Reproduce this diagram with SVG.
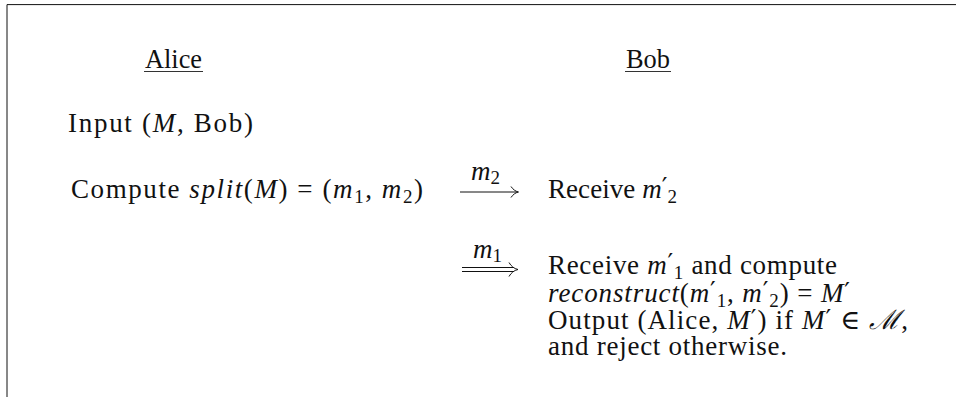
<svg xmlns="http://www.w3.org/2000/svg" width="956" height="397" viewBox="0 0 956 397">
<style>
text{font-family:"Liberation Serif","DejaVu Serif",serif;font-size:27px;fill:#111}
.i{font-style:italic}
.s{font-size:19px;font-style:normal}
.p{font-family:"DejaVu Sans",sans-serif;font-size:25px;font-style:normal}
.ln{stroke:#111;stroke-width:1;fill:none}
.ul{stroke:#333;stroke-width:1;fill:none}
</style>
<rect width="956" height="397" fill="#fff"/>
<g id="frame"><path class="ln" d="M7,397 V4.6 H956" stroke-width="1.4"/></g>
<g id="alice">
<text x="145" y="68" textLength="57" lengthAdjust="spacingAndGlyphs">Alice</text>
<line class="ul" x1="144" y1="71.5" x2="203" y2="71.5"/>
</g>
<g id="bob">
<text x="626" y="68" textLength="44" lengthAdjust="spacingAndGlyphs">Bob</text>
<line class="ul" x1="625" y1="71.5" x2="671" y2="71.5"/>
</g>
<g id="alice-input">
<text x="68" y="131.5" textLength="185" lengthAdjust="spacing">Input (<tspan class="i">M</tspan>, Bob)</text>
</g>
<g id="alice-split">
<text x="71" y="198" textLength="352" lengthAdjust="spacing">Compute <tspan class="i">split</tspan>(<tspan class="i">M</tspan>) = (<tspan class="i">m</tspan><tspan class="s" dy="5">1</tspan><tspan dy="-5">, </tspan><tspan class="i">m</tspan><tspan class="s" dy="5">2</tspan><tspan dy="-5">)</tspan></text>
</g>
<g id="bob-receive2">
<text x="548" y="198" textLength="129" lengthAdjust="spacing">Receive <tspan class="i">m</tspan><tspan class="p" dy="-3">′</tspan><tspan class="s" dy="8">2</tspan></text>
</g>
<g id="bob-reconstruct">
<text x="548" y="274" textLength="289" lengthAdjust="spacing">Receive <tspan class="i">m</tspan><tspan class="p" dy="-3">′</tspan><tspan class="s" dy="8">1</tspan><tspan dy="-5"> and compute</tspan></text>
<text x="548" y="302" textLength="302" lengthAdjust="spacing"><tspan class="i">reconstruct</tspan>(<tspan class="i">m</tspan><tspan class="p" dy="-3">′</tspan><tspan class="s" dy="8">1</tspan><tspan dy="-5">, </tspan><tspan class="i">m</tspan><tspan class="p" dy="-3">′</tspan><tspan class="s" dy="8">2</tspan><tspan dy="-5">) = </tspan><tspan class="i">M</tspan><tspan class="p" dy="-2">′</tspan></text>
<text x="548" y="329" textLength="360" lengthAdjust="spacing">Output (Alice, <tspan class="i">M</tspan><tspan class="p" dy="-2">′</tspan><tspan dy="2">) if </tspan><tspan class="i">M</tspan><tspan class="p" dy="-2">′</tspan><tspan dy="2"> ∈ </tspan><tspan class="i">ℳ</tspan>,</text>
<text x="548" y="355" textLength="239" lengthAdjust="spacing">and reject otherwise.</text>
</g>
<g id="connectors">
<g id="msg-m2">
<text x="471" y="180" class="i">m<tspan class="s" dy="4">2</tspan></text>
<line class="ln" x1="460" y1="192" x2="517.5" y2="192"/>
<path class="ln" d="M511,186.5 C513,189.5 515.5,191.3 518.5,192 C515.5,192.7 513,194.5 511,197.5"/>
</g>
<g id="msg-m1">
<text x="473" y="258" class="i">m<tspan class="s" dy="4">1</tspan></text>
<line class="ln" x1="462" y1="267.5" x2="514" y2="267.5"/>
<line class="ln" x1="462" y1="271.5" x2="514" y2="271.5"/>
<path class="ln" d="M509,262.5 C511,266 514,268.7 518,269.5 C514,270.3 511,273 509,276.5"/>
</g>
</g>
</svg>
